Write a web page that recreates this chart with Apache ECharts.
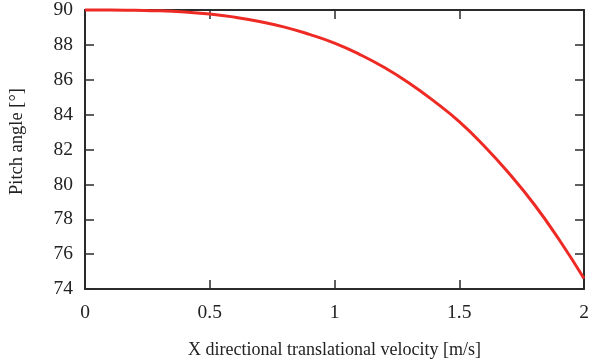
<!DOCTYPE html>
<html>
<head>
<meta charset="utf-8">
<script src="https://cdn.jsdelivr.net/npm/echarts@6/dist/echarts.min.js"></script>
<style>html,body{margin:0;padding:0;background:#fff}#c{width:590px;height:360px}</style>
</head>
<body>
<div id="c"></div>
<script>
var velocity = [0, 0.1, 0.2, 0.3, 0.4, 0.5, 0.6, 0.7, 0.8, 0.9, 1.0, 1.1, 1.2, 1.3, 1.4, 1.5, 1.6, 1.7, 1.8, 1.9, 2.0];
var pitch = [90.00, 90.00, 89.98, 89.95, 89.88, 89.77, 89.59, 89.34, 89.02, 88.60, 88.10, 87.46, 86.70, 85.80, 84.76, 83.60, 82.20, 80.62, 78.86, 76.84, 74.60];
var xTitle = 'X directional translational velocity [m/s]';
var yTitle = 'Pitch angle [°]';

var font = '"Liberation Serif", "DejaVu Serif", serif';
var axisColor = '#2b2b2b';
var chart = echarts.init(document.getElementById('c'), null, {renderer: 'canvas'});
var data = velocity.map(function (v, i) { return [v, pitch[i]]; });

function baseAxis(extra) {
  return Object.assign({
    axisLine: {show: true, onZero: false, lineStyle: {color: axisColor, width: 2}},
    axisTick: {show: true, inside: true, length: 9, lineStyle: {color: axisColor, width: 1.5}},
    splitLine: {show: false}
  }, extra);
}

chart.setOption({
  animation: false,
  backgroundColor: '#fff',
  grid: {left: 85, right: 6, top: 10, bottom: 71, containLabel: false, outerBoundsMode: 'none'},
  xAxis: [
    baseAxis({
      type: 'value', min: 0, max: 2, interval: 0.5, position: 'bottom',
      name: xTitle, nameLocation: 'middle', nameGap: 52,
      nameTextStyle: {fontFamily: font, fontSize: 18, color: '#222'},
      axisLabel: {fontFamily: font, fontSize: 19.5, color: '#222', margin: 14}
    }),
    baseAxis({
      type: 'value', min: 0, max: 2, interval: 0.5, position: 'top',
      axisLabel: {show: false}
    })
  ],
  yAxis: [
    baseAxis({
      type: 'value', min: 74, max: 90, interval: 2, position: 'left',
      name: yTitle, nameLocation: 'middle', nameGap: 58, nameRotate: 90,
      nameTextStyle: {fontFamily: font, fontSize: 18.5, color: '#222', padding: [0, 0, 0, 16]},
      axisLabel: {fontFamily: font, fontSize: 19.5, color: '#222', margin: 12}
    }),
    baseAxis({
      type: 'value', min: 74, max: 90, interval: 2, position: 'right',
      axisLabel: {show: false}
    })
  ],
  series: [{
    type: 'line',
    data: data,
    smooth: true,
    showSymbol: false,
    clip: false,
    lineStyle: {color: '#ee2a24', width: 3},
    xAxisIndex: 0,
    yAxisIndex: 0
  }]
});
</script>
</body>
</html>
